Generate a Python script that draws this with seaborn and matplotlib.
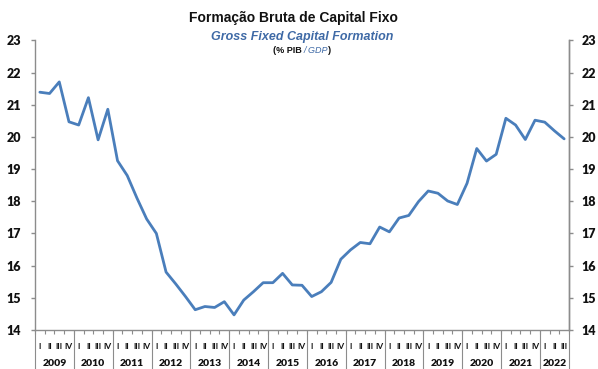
import matplotlib
matplotlib.use("Agg")
import matplotlib.pyplot as plt
import matplotlib.transforms as mtransforms
from matplotlib.offsetbox import TextArea, HPacker, AnchoredOffsetbox
import numpy as np
import pandas as pd
import seaborn as sns

# Gross fixed capital formation, % of GDP, quarterly
years = [2009, 2010, 2011, 2012, 2013, 2014, 2015, 2016,
         2017, 2018, 2019, 2020, 2021, 2022]
quarter_names = ["I", "II", "III", "IV"]
gfcf = [21.39, 21.35, 21.71, 20.47, 20.37, 21.22, 19.91, 20.86,
        19.26, 18.80, 18.10, 17.45, 17.00, 15.80, 15.43, 15.04,
        14.63, 14.73, 14.70, 14.88, 14.47, 14.93, 15.19, 15.47,
        15.47, 15.76, 15.40, 15.39, 15.04, 15.19, 15.48, 16.20,
        16.49, 16.72, 16.68, 17.20, 17.05, 17.48, 17.56, 17.99,
        18.32, 18.25, 18.01, 17.90, 18.56, 19.64, 19.25, 19.46,
        20.58, 20.37, 19.92, 20.52, 20.46, 20.19, 19.94]
y_ticks = list(range(14, 24))

n = len(gfcf)
period_year = [years[i // 4] for i in range(n)]
period_q = [quarter_names[i % 4] for i in range(n)]
df = pd.DataFrame({"idx": np.arange(n), "year": period_year,
                   "quarter": period_q, "value": gfcf})

sns.set_style("white")
plt.rcParams["font.family"] = ["Liberation Sans", "DejaVu Sans"]

LINE = "#4a7ebb"
AXIS = "#8c8c8c"
BLUE_TXT = "#3f6aa6"
TICK_FONT = "Lato"

fig = plt.figure(figsize=(5.98, 3.69), dpi=100)
ax = fig.add_axes([35 / 598, 39 / 369, 534 / 598, 289.6 / 369])

sns.lineplot(data=df, x="idx", y="value", ax=ax, color=LINE,
             linewidth=2.0, legend=False)

ax.set_xlim(-0.5, n - 0.5)
ax.set_ylim(14, 23)
ax.set_xlabel("")
ax.set_ylabel("")

# spines
ax.spines["top"].set_visible(False)
for side in ["left", "right", "bottom"]:
    ax.spines[side].set_visible(True)
    ax.spines[side].set_color(AXIS)
    ax.spines[side].set_linewidth(1.0)

# left y axis
ax.set_yticks(y_ticks)
ax.set_yticklabels([str(t) for t in y_ticks], fontfamily=TICK_FONT,
                   fontweight="heavy", fontsize=9, color="#111111")
ax.tick_params(axis="y", which="major", direction="out", length=3,
               width=1, color=AXIS, pad=7, left=True)

# right y axis mirroring the left
ax2 = ax.twinx()
ax2.set_ylim(ax.get_ylim())
ax2.set_yticks(y_ticks)
ax2.set_yticklabels([str(t) for t in y_ticks], fontfamily=TICK_FONT,
                    fontweight="heavy", fontsize=9, color="#111111")
ax2.tick_params(axis="y", direction="out", length=3, width=1,
                color=AXIS, pad=6, right=True)
for side in ["top", "left", "bottom"]:
    ax2.spines[side].set_visible(False)
ax2.spines["right"].set_color(AXIS)
ax2.spines["right"].set_linewidth(1.0)

# category axis: small ticks between quarters
ax.set_xticks(np.arange(-0.5, n, 1.0))
ax.set_xticklabels([])
ax.tick_params(axis="x", which="major", direction="out", length=3,
               width=0.8, color=AXIS, bottom=True)

trans = mtransforms.blended_transform_factory(ax.transData, ax.transAxes)

# quarter labels
for i, q in enumerate(period_q):
    ax.text(i, -0.057, q, transform=trans, ha="center", va="center",
            fontsize=6, fontweight="bold", fontfamily=TICK_FONT,
            color="#111111")

# year labels and separators
for k, yr in enumerate(years):
    start = 4 * k
    stop = min(4 * k + 4, n)
    ax.text((start + stop - 1) / 2, -0.115, str(yr), transform=trans,
            ha="center", va="center", fontsize=7.5, fontweight="heavy",
            fontfamily=TICK_FONT, color="#111111")
bounds = sorted(set([4 * k - 0.5 for k in range(len(years))] + [n - 0.5]))
for b in bounds:
    ax.plot([b, b], [0, -0.135], transform=trans, color=AXIS,
            linewidth=0.8, clip_on=False)

# titles
fig.text(0.49, 0.950, "Formação Bruta de Capital Fixo", ha="center",
         va="center", fontsize=10, fontweight="bold", color="#111111")
fig.text(0.505, 0.900, "Gross Fixed Capital Formation", ha="center",
         va="center", fontsize=9, fontweight="bold", style="italic",
         color=BLUE_TXT)
parts = [
    TextArea("(% PIB ", textprops=dict(fontsize=6.5, fontweight="bold",
                                        color="#111111")),
    TextArea("/ GDP", textprops=dict(fontsize=6.5, style="italic",
                                     color=BLUE_TXT)),
    TextArea(")", textprops=dict(fontsize=6.5, fontweight="bold",
                                 color="#111111")),
]
box = HPacker(children=parts, align="baseline", pad=0, sep=0)
anchored = AnchoredOffsetbox(loc="center", child=box, frameon=False,
                             bbox_to_anchor=(0.505, 0.864),
                             bbox_transform=fig.transFigure, pad=0,
                             borderpad=0)
fig.add_artist(anchored)

fig.savefig("out.png", dpi=100)
